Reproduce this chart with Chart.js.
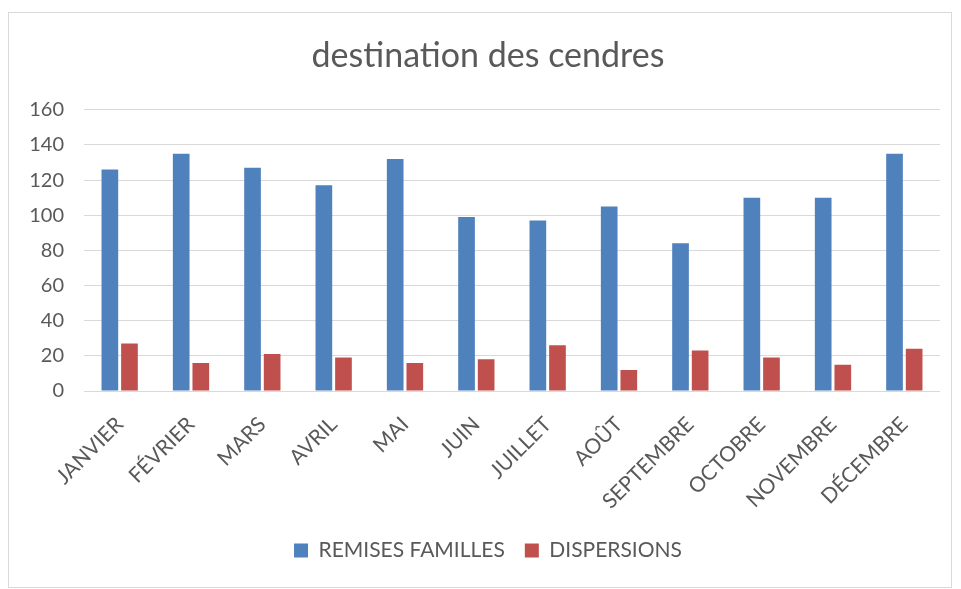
<!DOCTYPE html>
<html>
<head>
<meta charset="utf-8">
<script src="https://cdn.jsdelivr.net/npm/chart.js@4/dist/chart.umd.min.js"></script>
<style>
html,body{margin:0;padding:0;background:#fff;}
canvas{display:block;}
</style>
</head>
<body>
<canvas id="c" width="961" height="589"></canvas>
<script>
const categories = ["JANVIER","FÉVRIER","MARS","AVRIL","MAI","JUIN","JUILLET","AOÛT","SEPTEMBRE","OCTOBRE","NOVEMBRE","DÉCEMBRE"];
const remisesFamilles = [126,135,127,117,132,99,97,105,84,110,110,135];
const dispersions = [27,16,21,19,16,18,26,12,23,19,15,24];
const yTicks = [0,20,40,60,80,100,120,140,160];

const FONT = "Lato, 'Open Sans', sans-serif";
const TXT = "#595959";

const borderPlugin = {
  id: 'frame',
  beforeDraw(chart) {
    const ctx = chart.ctx;
    ctx.save();
    ctx.fillStyle = '#fff';
    ctx.fillRect(0, 0, chart.width, chart.height);
    ctx.strokeStyle = '#d9d9d9';
    ctx.lineWidth = 1;
    ctx.strokeRect(8.5, 12.5, 943, 575);
    ctx.restore();
  }
};

new Chart(document.getElementById('c'), {
  type: 'bar',
  data: {
    labels: categories,
    datasets: [
      { label: 'REMISES FAMILLES', data: remisesFamilles, backgroundColor: '#4f81bd', categoryPercentage: 0.55, barPercentage: 0.85 },
      { label: 'DISPERSIONS', data: dispersions, backgroundColor: '#c0504d', categoryPercentage: 0.55, barPercentage: 0.85 }
    ]
  },
  options: {
    responsive: false,
    animation: false,
    layout: { padding: { left: 36, right: 21, top: 0, bottom: 18 } },
    plugins: {
      title: {
        display: true,
        text: 'destination des cendres',
        color: TXT,
        font: { family: FONT, size: 34, weight: 'normal' },
        padding: { top: 36, bottom: 33 }
      },
      legend: {
        position: 'bottom',
        labels: {
          color: TXT,
          font: { family: FONT, size: 21 },
          boxWidth: 14,
          boxHeight: 14,
          padding: 20
        }
      },
      tooltip: { enabled: false }
    },
    scales: {
      x: {
        grid: { display: false },
        border: { display: false },
        ticks: {
          color: TXT,
          font: { family: FONT, size: 21 },
          minRotation: 45,
          maxRotation: 45,
          padding: 13
        },
        afterFit(scale) { scale.height = 129; }
      },
      y: {
        min: 0,
        max: 160,
        afterBuildTicks(scale) { scale.ticks = yTicks.map(v => ({ value: v })); },
        grid: { color: '#d9d9d9', lineWidth: 1, drawTicks: false },
        border: { display: false },
        ticks: {
          color: TXT,
          font: { family: FONT, size: 20 },
          padding: 20
        },
        afterFit(scale) {
          scale.width = 48;
          scale._computeLabelArea = () => undefined;
        }
      }
    }
  },
  plugins: [borderPlugin]
});
</script>
</body>
</html>
